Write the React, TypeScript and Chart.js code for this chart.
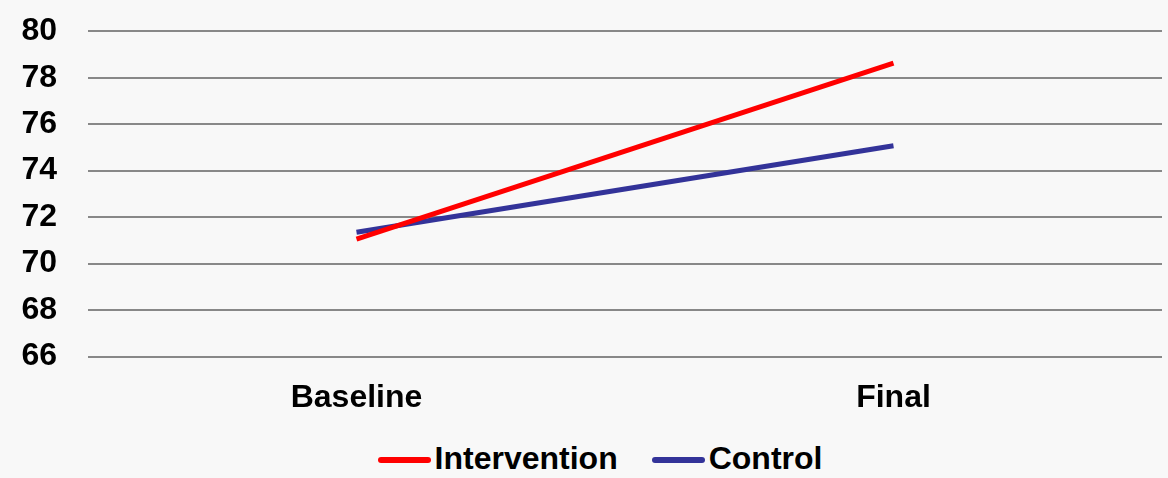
import React, { useEffect, useRef } from "react";
import { Chart, registerables } from "chart.js";

Chart.register(...registerables);

const categories = ["Baseline", "Final"];
const interventionValues = [71.05, 78.63];
const controlValues = [71.35, 75.07];
const seriesNames = ["Intervention", "Control"];
const seriesColors = ["#ff0000", "#333399"];
const yMin = 66;
const yMax = 80;
const yStep = 2;

const FONT = "'Liberation Sans', Arial, sans-serif";

export default function App() {
  const canvasRef = useRef<HTMLCanvasElement | null>(null);

  useEffect(() => {
    if (!canvasRef.current) return;
    const chart = new Chart(canvasRef.current, {
      type: "line",
      data: {
        labels: categories,
        datasets: [
          {
            label: seriesNames[0],
            data: interventionValues,
            borderColor: seriesColors[0],
            backgroundColor: seriesColors[0],
            borderWidth: 5,
            pointRadius: 0,
            tension: 0,
          },
          {
            label: seriesNames[1],
            data: controlValues,
            borderColor: seriesColors[1],
            backgroundColor: seriesColors[1],
            borderWidth: 5,
            pointRadius: 0,
            tension: 0,
          },
        ],
      },
      options: {
        animation: false,
        responsive: false,
        maintainAspectRatio: false,
        layout: { padding: { left: 20, right: 6, top: 12, bottom: 0 } },
        plugins: {
          legend: { display: false },
          tooltip: { enabled: false },
        },
        scales: {
          x: {
            offset: true,
            grid: { display: false, drawTicks: false },
            border: { display: false },
            ticks: {
              color: "#000",
              padding: 22,
              autoSkip: false,
              maxRotation: 0,
              font: { family: FONT, size: 32, weight: "bold" },
            },
          },
          y: {
            min: yMin,
            max: yMax,
            afterFit: (scale: any) => {
              scale.width = 68;
            },
            grid: { color: "#888888", lineWidth: 2, drawTicks: false },
            border: { display: false },
            ticks: {
              stepSize: yStep,
              autoSkip: false,
              color: "#000",
              padding: 31,
              font: { family: FONT, size: 32, weight: "bold" },
            },
          },
        },
      },
    });
    return () => chart.destroy();
  }, []);

  const legendItem = (name: string, color: string, gap: number) => (
    <div style={{ display: "flex", alignItems: "center", marginRight: gap }} key={name}>
      <div style={{ width: 53, height: 6, borderRadius: 3, background: color, marginRight: 4, marginTop: 4 }} />
      <span style={{ fontFamily: FONT, fontSize: 32, fontWeight: "bold", color: "#000", lineHeight: "36px" }}>{name}</span>
    </div>
  );

  return (
    <div style={{ position: "absolute", left: 0, top: 0, width: 1168, height: 478, background: "#f8f8f8", overflow: "hidden" }}>
      <canvas ref={canvasRef} width={1168} height={458} style={{ position: "absolute", left: 0, top: -19, width: 1168, height: 458 }} />
      <div style={{ position: "absolute", left: 0, top: 440, width: 1168, display: "flex", justifyContent: "center", paddingLeft: 32, boxSizing: "border-box" }}>
        {legendItem(seriesNames[0], seriesColors[0], 34)}
        {legendItem(seriesNames[1], seriesColors[1], 0)}
      </div>
    </div>
  );
}
